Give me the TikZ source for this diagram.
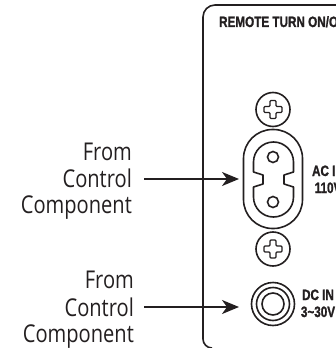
\documentclass[tikz,border=0pt]{standalone}
\usepackage{fontspec}
\setmainfont{Open Sans}
\newfontfamily\labelfont{Liberation Sans}[BoldFont={Liberation Sans Bold},BoldFeatures={FakeBold=1.5}]
\usetikzlibrary{arrows.meta}
\definecolor{ink}{HTML}{231F20}
\tikzset{
  x=1pt,y=-1pt,
  part/.style={draw=ink,line width=1.6pt},
  lead/.style={draw=ink,line width=2pt,-{Stealth[length=17pt,width=14pt,inset=5pt]}},
  source/.style={align=right,anchor=base east,font=\fontsize{24.5}{26.5}\selectfont,text=ink,inner sep=0pt,xscale=0.82},
  tag/.style={anchor=base,font=\labelfont\bfseries\fontsize{15}{17}\selectfont,text=ink,inner sep=0pt,xscale=0.78,align=center},
  screw/.style={part,circle,minimum size=34pt,inner sep=0pt},
  ring/.style={part,circle,inner sep=0pt},
}
\newcommand{\crosshead}[1]{%
  \draw[ink,line width=1.3pt,rounded corners=1pt] (#1) ++(-3,-9) -- ++(6,0) -- ++(0,6) -- ++(6,0) -- ++(0,6) -- ++(-6,0) -- ++(0,6) -- ++(-6,0) -- ++(0,-6) -- ++(-6,0) -- ++(0,-6) -- ++(6,0) -- cycle;}
\begin{document}
\begin{tikzpicture}
\useasboundingbox (0,0) rectangle (336,348);
\clip (0,0) rectangle (336,348);
% panel
\draw[draw=ink,line width=1.6pt] (336,5) -- (215,5) arc[start angle=270,end angle=180,radius=12] -- (203,339) arc[start angle=180,end angle=90,radius=9];
\node[tag,anchor=base west] (remote) at (219,27) {REMOTE TURN ON/OFF};
% screws
\node[screw] (screwa) at (273,109.5) {};
\node[screw] (screwb) at (273,249) {};
\crosshead{screwa.center}
\crosshead{screwb.center}
% AC socket
\node[part,minimum width=59pt,minimum height=99pt,rounded corners=29pt,inner sep=0pt] (acport) at (273,179) {};
\draw[part,line join=round] (253.5,162) arc[start angle=180,end angle=360,radius=20] -- (293.5,172) -- (284,175) -- (284,184) -- (293.5,187) -- (293.5,197)
  arc[start angle=0,end angle=180,radius=20] -- (253.5,187) -- (263,184) -- (263,175) -- (253.5,172) -- cycle;
\node[ring,minimum size=11pt] (holea) at (273,157) {};
\node[ring,minimum size=11pt] (holeb) at (273,202) {};
\node[tag] (aclabel) at (328,176) {AC IN};
\node[tag] (acvolt) at (328,193) {110V};
% DC jack
\node[ring,minimum size=43pt] (dcjack) at (273,304) {};
\node[ring,minimum size=33pt] (dcmid) at (273,304) {};
\node[ring,minimum size=22pt] (dcin) at (273,304) {};
\node[tag] (dclabel) at (318,300) {DC IN};
\node[tag] (dcvolt) at (318,317) {3\textasciitilde30V};
% sources
\node[source] (srca) at (132,160) {From};
\node[source] (srcab) at (132,187) {Control};
\node[source] (srcac) at (132,213) {Component};
\node[source] (srcb) at (134,288) {From};
\node[source] (srcbb) at (134,316) {Control};
\node[source] (srcbc) at (134,342) {Component};
\coordinate (starta) at (144,179);
\coordinate (startb) at (144,307);
\coordinate (enda) at (239,179);
\coordinate (endb) at (239,307);
\draw[lead] (starta) -- (enda);
\draw[lead] (startb) -- (endb);
\end{tikzpicture}
\end{document}
